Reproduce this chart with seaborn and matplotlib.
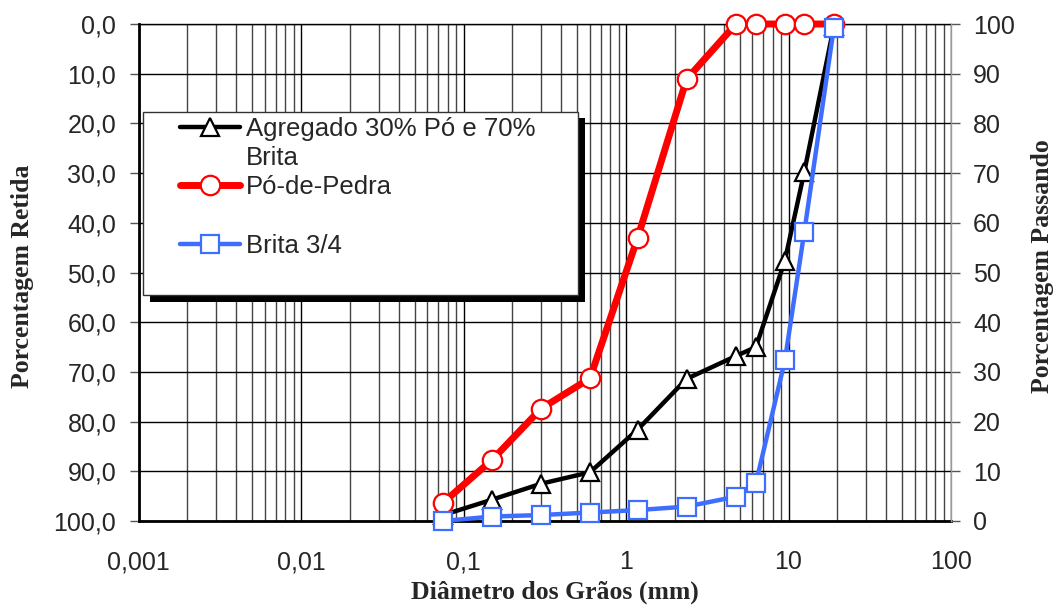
import matplotlib
matplotlib.use("Agg")
import matplotlib.pyplot as plt
import seaborn as sns
import pandas as pd
from matplotlib.lines import Line2D
from matplotlib.patches import Rectangle
from matplotlib.ticker import FixedLocator, FixedFormatter, LogLocator, NullFormatter

# ---------------- data ----------------
sieves = [0.075, 0.15, 0.3, 0.6, 1.18, 2.36, 4.75, 6.3, 9.5, 12.5, 19.0]
agregado = [1.2, 4.3, 7.5, 9.8, 18.4, 28.6, 33.2, 35.0, 52.4, 70.2, 99.5]
po_de_pedra = [3.7, 12.3, 22.6, 28.7, 57.0, 88.9, 100.0, 100.0, 100.0, 100.0, 100.0]
brita = [0.0, 0.9, 1.2, 1.7, 2.2, 2.9, 4.9, 7.6, 32.3, 58.1, 99.2]

series_names = ["Agregado 30% Pó e 70%", "Pó-de-Pedra", "Brita 3/4"]
x_tick_values = [0.001, 0.01, 0.1, 1, 10, 100]
x_tick_labels = ["0,001", "0,01", "0,1", "1", "10", "100"]
left_ticks = list(range(0, 101, 10))
left_tick_labels = [f"{v},0" for v in left_ticks]
right_ticks = list(range(0, 101, 10))
right_tick_labels = [str(v) for v in right_ticks]

# ---------------- style ----------------
sns.set_style("white")
plt.rcParams["font.family"] = ["Liberation Sans", "DejaVu Sans"]

W, H = 1056, 612
fig = plt.figure(figsize=(W / 100, H / 100), dpi=100)
ax_l, ax_r, ax_t, ax_b = 138.5, 951, 24, 521
ax = fig.add_axes([ax_l / W, 1 - ax_b / H, (ax_r - ax_l) / W, (ax_b - ax_t) / H])
ax2 = ax.twinx()

# ---------------- lines ----------------
df = pd.DataFrame({"diam": sieves, "agregado": agregado, "po": po_de_pedra, "brita": brita})
sns.lineplot(data=df, x="diam", y="agregado", ax=ax2, color="black", lw=3.2,
             marker="^", markersize=13, markerfacecolor="white", markeredgecolor="black",
             markeredgewidth=1.6, clip_on=False, legend=False, zorder=3)
sns.lineplot(data=df, x="diam", y="po", ax=ax2, color="#ff0000", lw=5,
             marker="o", markersize=14, markerfacecolor="white", markeredgecolor="#ff0000",
             markeredgewidth=1.6, clip_on=False, legend=False, zorder=4)
sns.lineplot(data=df, x="diam", y="brita", ax=ax2, color="#3d6eff", lw=3.2,
             marker="s", markersize=13, markerfacecolor="white", markeredgecolor="#3d6eff",
             markeredgewidth=1.6, clip_on=False, legend=False, zorder=5)
ax2.set_xlabel("")
ax2.set_ylabel("")

# ---------------- axes ----------------
tick_fs = 18
ax.set_xscale("log")
ax.set_xlim(0.001, 100)
ax.set_ylim(100, 0)
ax.xaxis.set_major_locator(FixedLocator(x_tick_values))
ax.xaxis.set_major_formatter(FixedFormatter(x_tick_labels))
ax.xaxis.set_minor_locator(LogLocator(base=10, subs=range(2, 10)))
ax.xaxis.set_minor_formatter(NullFormatter())
ax.set_yticks(left_ticks)
ax.set_yticklabels(left_tick_labels)
ax.set_xlabel("")
ax.set_ylabel("")
ax.tick_params(axis="x", which="both", length=0, pad=21, labelsize=tick_fs)
ax.tick_params(axis="y", which="both", length=6.5, width=1, color="#555555",
               pad=9.5, labelsize=tick_fs, left=True)

ax.grid(True, axis="x", which="major", color="black", lw=1.0)
ax.grid(True, axis="x", which="minor", color="#444444", lw=1.0)
ax.grid(True, axis="y", which="major", color="black", lw=1.0)
ax.set_axisbelow(True)

for s in ["left", "bottom"]:
    ax.spines[s].set_color("black")
    ax.spines[s].set_linewidth(2)
ax.spines["top"].set_color("black")
ax.spines["top"].set_linewidth(1)
ax.spines["right"].set_visible(False)

ax2.set_ylim(0, 100)
ax2.set_yticks(right_ticks)
ax2.set_yticklabels(right_tick_labels)
ax2.tick_params(axis="y", length=6.5, width=1, color="#555555", pad=9.5, labelsize=tick_fs)
for s in ["left", "bottom", "top"]:
    ax2.spines[s].set_visible(False)
ax2.spines["right"].set_color("#999999")
ax2.spines["right"].set_linewidth(1)

# ---------------- legend ----------------
aw, ah = ax_r - ax_l, ax_b - ax_t
def axx(px):
    return (px - ax_l) / aw
def axy(py):
    return (ax_b - py) / ah

fx0, fx1, fy0, fy1 = 143.3, 578.3, 111.7, 295
shadow = Rectangle((axx(fx0 + 6.7), axy(fy1 + 6.7)), axx(fx1) - axx(fx0), axy(fy0) - axy(fy1),
                   transform=ax2.transAxes, fc="black", ec="none", zorder=8, clip_on=False)
frame = Rectangle((axx(fx0), axy(fy1)), axx(fx1) - axx(fx0), axy(fy0) - axy(fy1),
                  transform=ax2.transAxes, fc="white", ec="#333333", lw=1, zorder=9, clip_on=False)
ax2.add_patch(shadow)
ax2.add_patch(frame)

lines = ax2.get_lines()
blank = Line2D([], [], color="none")
leg_fs = 18.5
leg_px = leg_fs * 100 / 72
leg = ax2.legend(handles=[lines[0], blank, lines[1], blank, lines[2]],
                 labels=[series_names[0], "Brita", series_names[1], " ", series_names[2]],
                 loc="upper left", bbox_to_anchor=(axx(180), axy(117)),
                 frameon=False, fontsize=leg_fs, borderpad=0, borderaxespad=0,
                 handlelength=60 / leg_px, handletextpad=6 / leg_px, labelspacing=0.2)
leg.set_zorder(10)

# ---------------- axis titles ----------------
lab_font = dict(family=["Liberation Serif", "DejaVu Serif"], weight="bold", size=18.5)
fig.text(555 / W, 1 - 592 / H, "Diâmetro dos Grãos (mm)", ha="center", va="center", **lab_font)
fig.text(23 / W, 1 - 276 / H, "Porcentagem Retida", ha="center", va="center", rotation=90, **lab_font)
fig.text(1043 / W, 1 - 266 / H, "Porcentagem Passando", ha="center", va="center", rotation=90, **lab_font)

fig.savefig("out.png", dpi=100)
